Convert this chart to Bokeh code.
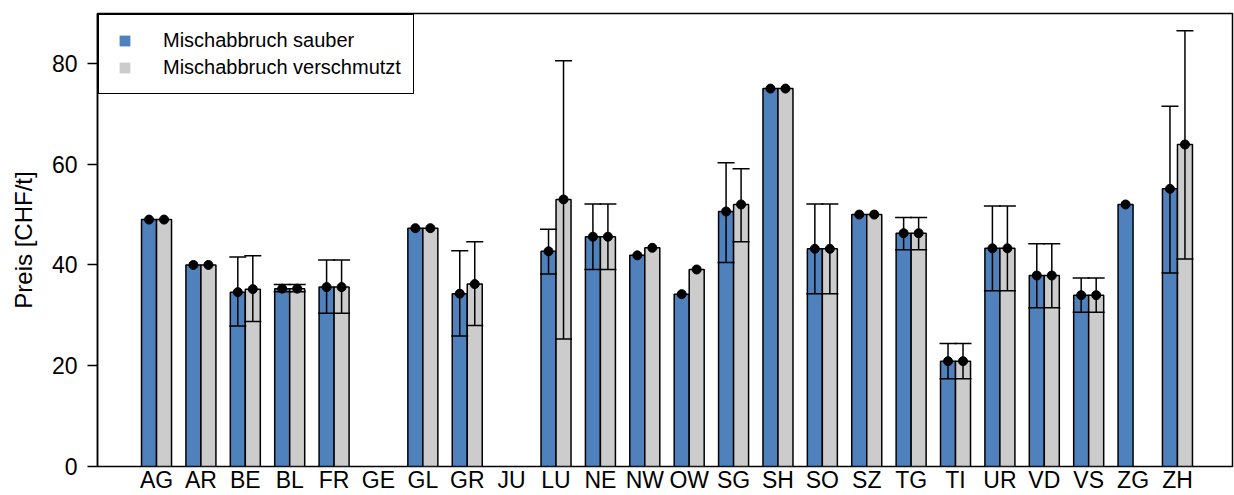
import math
from bokeh.plotting import figure
from bokeh.models import (ColumnDataSource, Range1d, FixedTicker, Whisker, TeeHead,
                          Legend, LegendItem)
from bokeh.embed import file_html
from bokeh.resources import INLINE

nan = float("nan")

categories = ["AG", "AR", "BE", "BL", "FR", "GE", "GL", "GR", "JU", "LU", "NE", "NW",
              "OW", "SG", "SH", "SO", "SZ", "TG", "TI", "UR", "VD", "VS", "ZG", "ZH"]

sauber = [49.0, 40.0, 34.6, 35.3, 35.6, nan, 47.3, 34.3, nan, 42.7, 45.6, 41.9,
          34.2, 50.6, 75.0, 43.2, 50.0, 46.3, 20.9, 43.3, 37.9, 34.0, 52.0, 55.1]
sauber_lo = [nan, nan, 27.9, 34.7, 30.4, nan, nan, 25.9, nan, 38.2, 39.1, nan,
             nan, 40.5, nan, 34.3, nan, 43.0, 17.4, 34.9, 31.5, 30.6, nan, 38.4]
sauber_hi = [nan, nan, 41.6, 36.1, 41.0, nan, nan, 42.8, nan, 47.1, 52.1, nan,
             nan, 60.3, nan, 52.1, nan, 49.4, 24.4, 51.7, 44.2, 37.4, nan, 71.5]

verschmutzt = [49.0, 40.0, 35.2, 35.3, 35.6, nan, 47.3, 36.2, nan, 53.0, 45.6, 43.4,
               39.1, 52.0, 75.0, 43.2, 50.0, 46.3, 20.9, 43.3, 37.9, 34.0, nan, 63.9]
verschmutzt_lo = [nan, nan, 28.8, 34.7, 30.4, nan, nan, 28.0, nan, 25.3, 39.1, nan,
                  nan, 44.6, nan, 34.3, nan, 43.0, 17.4, 34.9, 31.5, 30.6, nan, 41.2]
verschmutzt_hi = [nan, nan, 41.8, 36.1, 41.0, nan, nan, 44.6, nan, 80.5, 52.1, nan,
                  nan, 59.1, nan, 52.1, nan, 49.4, 24.4, 51.7, 44.2, 37.4, nan, 86.5]

series_names = ["Mischabbruch sauber", "Mischabbruch verschmutzt"]
colors = ["#4F81BD", "#CCCCCC"]

FONT = "Liberation Sans"
BAR_W = 0.338

p = figure(width=1234, height=495, output_backend="svg", toolbar_location=None,
           x_range=Range1d(-1.33, 24.24), y_range=Range1d(0, 89.9),
           min_border_left=97, min_border_right=2, min_border_top=13, min_border_bottom=28)
p.xgrid.visible = False
p.ygrid.visible = False
p.outline_line_color = "black"
p.outline_line_width = 1.5
p.outline_line_alpha = 1.0
p.background_fill_color = "white"
p.border_fill_color = "white"

idx = list(range(len(categories)))
series = [(sauber, sauber_lo, sauber_hi, -BAR_W / 2),
          (verschmutzt, verschmutzt_lo, verschmutzt_hi, BAR_W / 2)]

for (vals, lo, hi, off), col in zip(series, colors):
    xs = [i + off for i, v in zip(idx, vals) if not math.isnan(v)]
    ys = [v for v in vals if not math.isnan(v)]
    src = ColumnDataSource(dict(x=xs, top=ys))
    p.vbar(x="x", top="top", bottom=0, width=BAR_W, source=src,
           fill_color=col, line_color="black", line_width=1.5)

for (vals, lo, hi, off), col in zip(series, colors):
    ex = [i + off for i, l in zip(idx, lo) if not math.isnan(l)]
    el = [l for l in lo if not math.isnan(l)]
    eh = [h for h in hi if not math.isnan(h)]
    esrc = ColumnDataSource(dict(base=ex, lower=el, upper=eh))
    w = Whisker(base="base", lower="lower", upper="upper", source=esrc,
                line_color="black", line_width=1.5, level="overlay",
                upper_head=TeeHead(size=17, line_color="black", line_width=1.5),
                lower_head=TeeHead(size=17, line_color="black", line_width=1.5))
    p.add_layout(w)

for (vals, lo, hi, off), col in zip(series, colors):
    xs = [i + off for i, v in zip(idx, vals) if not math.isnan(v)]
    ys = [v for v in vals if not math.isnan(v)]
    p.scatter(x=xs, y=ys, size=9, marker="circle", fill_color="black", line_color="black")

# legend proxies (square markers without outline)
leg_items = []
for name, col in zip(series_names, colors):
    r = p.scatter(x=[nan], y=[nan], marker="square", size=11, fill_color=col, line_color=None)
    leg_items.append(LegendItem(label=name, renderers=[r]))

legend = Legend(items=leg_items, location="top_left", margin=1,
                padding=12, spacing=0, glyph_width=27, glyph_height=27,
                label_height=27, label_standoff=25,
                label_text_font=FONT, label_text_font_size="20px",
                label_text_color="black", label_text_baseline="middle",
                border_line_color="black", border_line_width=1.5, border_line_alpha=1.0,
                background_fill_color="white", background_fill_alpha=1.0)
p.add_layout(legend)

# y axis
yax = p.yaxis[0]
yax.ticker = FixedTicker(ticks=[0, 20, 40, 60, 80])
yax.minor_tick_line_color = None
yax.major_tick_in = 0
yax.major_tick_out = 10
yax.major_tick_line_width = 1.5
yax.major_tick_line_color = "black"
yax.axis_line_width = 1.5
yax.axis_line_color = "black"
yax.major_label_standoff = 10
yax.major_label_text_font = FONT
yax.major_label_text_font_size = "23px"
yax.major_label_text_color = "black"
yax.axis_label = "Preis [CHF/t]"
yax.axis_label_text_font = FONT
yax.axis_label_text_font_size = "24px"
yax.axis_label_text_font_style = "normal"
yax.axis_label_text_color = "black"
yax.axis_label_standoff = 12

# x axis
xax = p.xaxis[0]
xax.ticker = FixedTicker(ticks=idx)
xax.major_label_overrides = {i: c for i, c in zip(idx, categories)}
xax.minor_tick_line_color = None
xax.major_tick_line_color = None
xax.major_tick_in = 0
xax.major_tick_out = 0
xax.axis_line_color = None
xax.major_label_standoff = 0
xax.major_label_text_font = FONT
xax.major_label_text_font_size = "23px"
xax.major_label_text_color = "black"

open("out.html", "w").write(file_html(p, INLINE))
